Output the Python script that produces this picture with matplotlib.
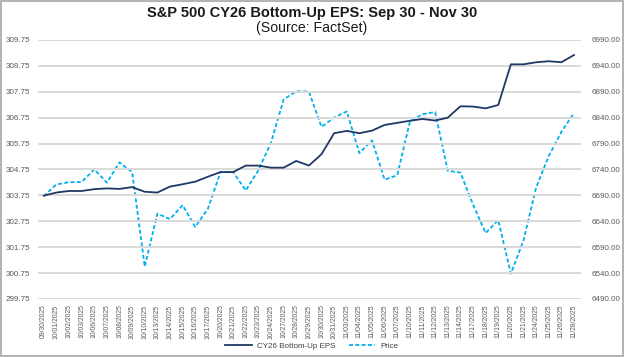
import matplotlib
matplotlib.use("Agg")
import matplotlib.pyplot as plt
from matplotlib.patches import Rectangle

plt.rcParams['font.family'] = ['Liberation Sans', 'DejaVu Sans']

# trading days (Thanksgiving 11/27 excluded)
dates = [
    "09/30/2025", "10/01/2025", "10/02/2025", "10/03/2025", "10/06/2025",
    "10/07/2025", "10/08/2025", "10/09/2025", "10/10/2025", "10/13/2025",
    "10/14/2025", "10/15/2025", "10/16/2025", "10/17/2025", "10/20/2025",
    "10/21/2025", "10/22/2025", "10/23/2025", "10/24/2025", "10/27/2025",
    "10/28/2025", "10/29/2025", "10/30/2025", "10/31/2025", "11/03/2025",
    "11/04/2025", "11/05/2025", "11/06/2025", "11/07/2025", "11/10/2025",
    "11/11/2025", "11/12/2025", "11/13/2025", "11/14/2025", "11/17/2025",
    "11/18/2025", "11/19/2025", "11/20/2025", "11/21/2025", "11/24/2025",
    "11/25/2025", "11/26/2025", "11/28/2025",
]

eps = [
    303.74, 303.86, 303.92, 303.92, 303.99, 304.02, 304.00, 304.07, 303.89, 303.86,
    304.09, 304.18, 304.28, 304.47, 304.65, 304.65, 304.90, 304.90, 304.82, 304.82,
    305.08, 304.90, 305.34, 306.15, 306.24, 306.15, 306.25, 306.47, 306.55, 306.63,
    306.70, 306.64, 306.75, 307.19, 307.18, 307.11, 307.24, 308.81, 308.81, 308.89,
    308.93, 308.89, 309.17,
]

price = [
    6688.5, 6711.2, 6715.4, 6715.8, 6740.3, 6714.6, 6753.7, 6735.1, 6552.5, 6654.7,
    6644.3, 6671.1, 6629.1, 6664.0, 6735.1, 6735.4, 6699.4, 6738.4, 6791.7, 6875.2,
    6890.9, 6890.6, 6822.3, 6840.2, 6852.0, 6771.6, 6796.3, 6720.3, 6728.8, 6832.4,
    6846.6, 6850.9, 6737.5, 6734.1, 6672.4, 6617.3, 6642.2, 6538.8, 6603.0, 6705.1,
    6765.9, 6812.6, 6849.1,
]

eps_ticks = [299.75 + i for i in range(11)]
price_ticks = [6490 + 50 * i for i in range(11)]

navy = "#1F3864"
light_blue = "#00B0F0"
tick_color = "#595959"

fig = plt.figure(figsize=(6.24, 3.57), dpi=100)
fig.patches.append(Rectangle((0.001, 0.002), 0.997, 0.995, transform=fig.transFigure,
                             fill=False, edgecolor="#A6A6A6", linewidth=1.2))

ax = fig.add_axes([0.061, 0.1625, 0.870, 0.7255])
ax2 = ax.twinx()

x = list(range(len(dates)))
l1, = ax.plot(x, eps, color=navy, linewidth=1.3, label="CY26 Bottom-Up EPS", zorder=3)
l2, = ax2.plot(x, price, color=light_blue, linewidth=1.3, linestyle=(0, (2.2, 1.3)),
               label="Price", zorder=3)

ax.set_ylim(299.75, 309.75)
ax.set_yticks(eps_ticks)
ax.set_yticklabels([f"{v:.2f}" for v in eps_ticks])
ax2.set_ylim(6490, 6990)
ax2.set_yticks(price_ticks)
ax2.set_yticklabels([f"{v:.2f}" for v in price_ticks])

ax.set_xlim(-0.45, len(dates) - 0.45)
ax.set_xticks(x)
ax.set_xticklabels(dates, rotation=90)

ax.grid(axis="y", color="#D9D9D9", linewidth=1.4)
ax.set_axisbelow(True)
for a in (ax, ax2):
    for s in a.spines.values():
        s.set_visible(False)
    a.tick_params(length=0, colors=tick_color)
ax.tick_params(axis="y", labelsize=5.8, pad=6)
ax2.tick_params(axis="y", labelsize=5.8, pad=8)
ax.tick_params(axis="x", labelsize=4.9, pad=4)
ax.set_zorder(ax2.get_zorder() + 1)
ax.patch.set_visible(False)

fig.text(0.5, 0.963, "S&P 500 CY26 Bottom-Up EPS: Sep 30 - Nov 30", ha="center", va="center",
         fontsize=10.5, fontweight="bold", color="#1a1a1a")
fig.text(0.5, 0.922, "(Source: FactSet)", ha="center", va="center", fontsize=10.2, color="#1a1a1a")

fig.legend(handles=[l1, l2], loc="center", bbox_to_anchor=(0.5, 0.03), ncol=2, frameon=False,
           fontsize=5.8, handlelength=3.3, handletextpad=0.7, columnspacing=1.6,
           labelcolor="#404040")

fig.savefig("out.png", dpi=100)
